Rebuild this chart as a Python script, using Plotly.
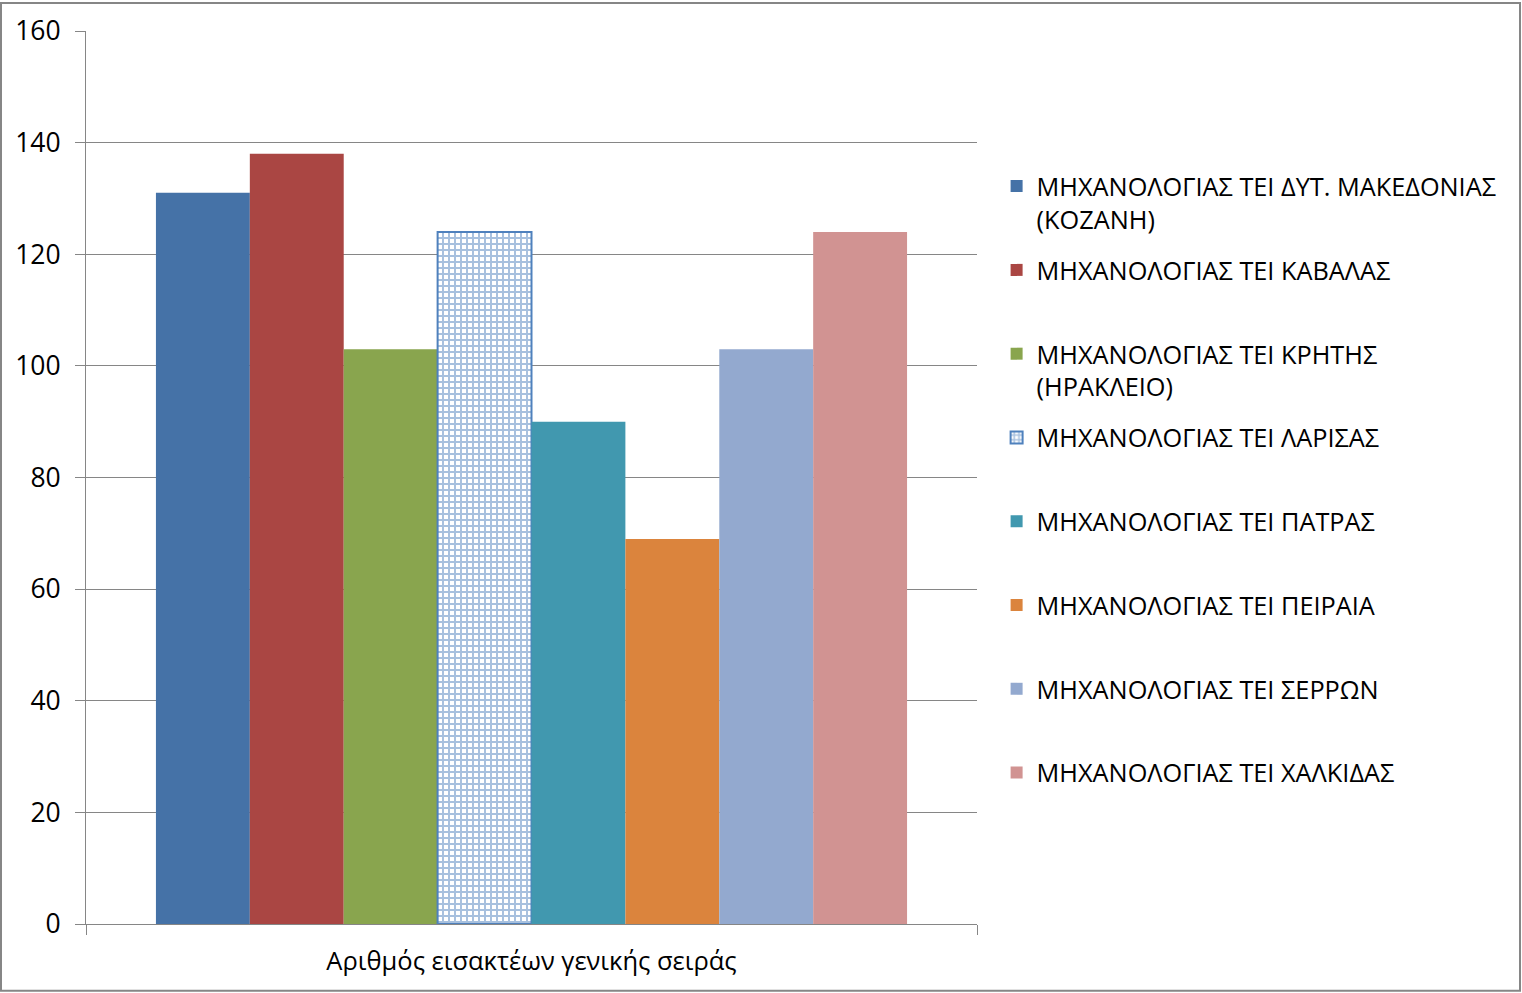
import plotly.graph_objects as go

# Data
category = ["Αριθμός εισακτέων γενικής σειράς"]
schools = [
    "ΜΗΧΑΝΟΛΟΓΙΑΣ ΤΕΙ ΔΥΤ. ΜΑΚΕΔΟΝΙΑΣ<br>(ΚΟΖΑΝΗ)",
    "ΜΗΧΑΝΟΛΟΓΙΑΣ ΤΕΙ ΚΑΒΑΛΑΣ",
    "ΜΗΧΑΝΟΛΟΓΙΑΣ ΤΕΙ ΚΡΗΤΗΣ<br>(ΗΡΑΚΛΕΙΟ)",
    "ΜΗΧΑΝΟΛΟΓΙΑΣ ΤΕΙ ΛΑΡΙΣΑΣ",
    "ΜΗΧΑΝΟΛΟΓΙΑΣ ΤΕΙ ΠΑΤΡΑΣ",
    "ΜΗΧΑΝΟΛΟΓΙΑΣ ΤΕΙ ΠΕΙΡΑΙΑ",
    "ΜΗΧΑΝΟΛΟΓΙΑΣ ΤΕΙ ΣΕΡΡΩΝ",
    "ΜΗΧΑΝΟΛΟΓΙΑΣ ΤΕΙ ΧΑΛΚΙΔΑΣ",
]
admitted = [131, 138, 103, 124, 90, 69, 103, 124]
colors = ["#4572A7", "#AA4643", "#89A54E", "#4F81BD",
          "#4198AF", "#DB843D", "#93A9CF", "#D19392"]
patterned = [False, False, False, True, False, False, False, False]

W, H = 1522, 993
M = dict(l=86, r=545, t=29, b=69)

fig = go.Figure()
for i, (name, val, col, pat) in enumerate(zip(schools, admitted, colors, patterned)):
    # pad single-line names so every legend entry has the same height
    label = name if "<br>" in name else name + "<br>\u00a0"
    if pat:
        marker = dict(color="white", line=dict(color=col, width=2),
                      pattern=dict(shape="+", fgcolor=col, bgcolor="white",
                                   size=6, solidity=0.55))
    else:
        marker = dict(color=col, line=dict(width=0))
    fig.add_trace(go.Bar(
        x=category, y=[val], name=label, marker=marker,
        legendgroup=str(i),
    ))

fig.update_layout(
    width=W, height=H,
    margin=M,
    paper_bgcolor="white",
    plot_bgcolor="white",
    barmode="group",
    bargap=0.157,
    bargroupgap=0,
    font=dict(family="Open Sans, sans-serif", color="black"),
    showlegend=True,
    legend=dict(
        x=1.022, xanchor="left",
        y=0.852, yanchor="top",
        font=dict(size=25.3, color="black"),
        valign="top",
        tracegroupgap=15,
        bgcolor="rgba(0,0,0,0)",
    ),
)

fig.update_xaxes(
    showline=True, linecolor="#868686", linewidth=1,
    ticks="outside", tickson="boundaries", ticklen=10, tickcolor="#868686",
    tickfont=dict(size=25.5, color="black"),
    ticklabelstandoff=14,
    showgrid=False,
)
fig.update_yaxes(
    range=[0, 160], dtick=20,
    showline=True, linecolor="#868686", linewidth=1,
    ticks="outside", ticklen=10, tickcolor="#868686",
    tickfont=dict(size=26.5, color="black"),
    ticklabelstandoff=9,
    showgrid=True, gridcolor="#868686", gridwidth=1,
    zeroline=False,
)

# outer chart frame
pw = W - M["l"] - M["r"]
ph = H - M["t"] - M["b"]
fig.add_shape(
    type="rect", xref="paper", yref="paper",
    x0=-(M["l"] - 1) / pw, x1=1 + (M["r"] - 2) / pw,
    y0=-(M["b"] - 2) / ph, y1=1 + (M["t"] - 1) / ph,
    line=dict(color="#868686", width=2), fillcolor="rgba(0,0,0,0)",
    layer="below",
)

fig.write_html("out.html", config={"displayModeBar": False},
               post_script="document.body.style.margin='0';")
